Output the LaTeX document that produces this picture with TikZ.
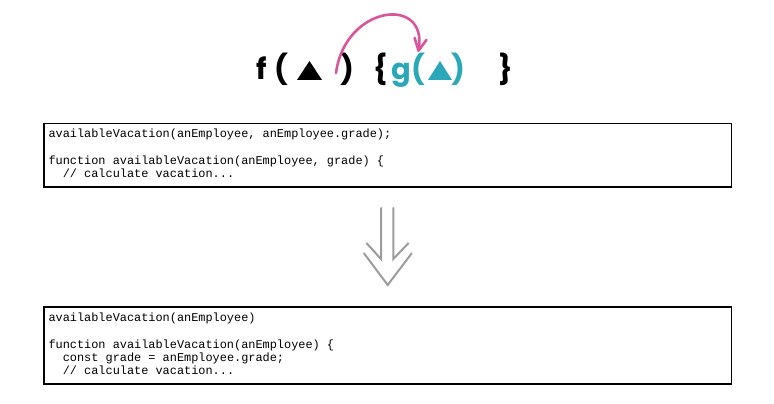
\documentclass[tikz,border=0pt]{standalone}
\usepackage{fontspec}
\setmonofont{Liberation Mono}
\newfontfamily\headfont{Poppins}
\usetikzlibrary{arrows.meta}
\definecolor{fnteal}{HTML}{2BA8B8}
\definecolor{fnpink}{HTML}{D9559C}
\definecolor{arrowgray}{HTML}{9C9C9C}
\begin{document}
\begin{tikzpicture}[x=1pt,y=-1pt,
  glyph/.style={anchor=base, inner sep=0pt, font=\headfont\bfseries\fontsize{29}{30}\selectfont},
  codebox/.style={draw=black, line width=1.4pt, minimum width=687.7pt, inner sep=0pt},
  codeline/.style={anchor=base west, inner sep=0pt, font=\ttfamily\fontsize{11.9}{13.3}\selectfont},
  pinkarc/.style={draw=fnpink, line width=2.6pt, line cap=round,
    -{Straight Barb[length=12pt, width=12pt, line width=2.6pt, round]}},
  grayline/.style={draw=arrowgray, line width=2pt, line cap=round, line join=miter}]
\useasboundingbox (0,0) rectangle (774,404);

% heading: f ( triangle ) { g ( triangle ) }
\node[glyph] (f)  at (262,80) {f};
\node[glyph] (fo) at (281,80) {(};
\fill[black] (297,80) -- (322,80) -- (309.5,61) -- cycle;
\node[glyph] (fc) at (347.5,80) {)};
\node[glyph] (bo) at (381,80) {\{};
\node[glyph, text=fnteal] (g)  at (401,80) {g};
\node[glyph, text=fnteal] (go) at (418,80) {(};
\fill[fnteal] (428,80) -- (452,80) -- (440,61) -- cycle;
\node[glyph, text=fnteal] (gc) at (458,80) {)};
\node[glyph] (bc) at (506,80) {\}};

% the argument moves into the body
\coordinate (arcstart) at (336,73);
\coordinate (arcend) at (418.3,52);
\draw[pinkarc] (arcstart) .. controls (345,5) and (428,-5) .. (arcend);

% before
\node[codebox, minimum height=63.5pt] (before) at (387.85,155.25) {};
\node[codeline] (b1) at (48.3,137.7) {availableVacation(anEmployee, anEmployee.grade);};
\node[codeline] (b2) at (48.3,164.3) {function availableVacation(anEmployee, grade) \{};
\node[codeline] (b3) at (48.3,177.6) {\phantom{xx}// calculate vacation...};

% double arrow
\draw[grayline] (381,208) -- (381,259) -- (366.7,243.3);
\draw[grayline] (393.3,208) -- (393.3,259) -- (408.3,243.3);
\draw[grayline] (364,253.3) -- (387.7,285) -- (411.7,253.3);

% after
\node[codebox, minimum height=77pt] (after) at (387.85,345.5) {};
\node[codeline] (a1) at (48.3,321.7) {availableVacation(anEmployee)};
\node[codeline] (a2) at (48.3,348.3) {function availableVacation(anEmployee) \{};
\node[codeline] (a3) at (48.3,361.6) {\phantom{xx}const grade = anEmployee.grade;};
\node[codeline] (a4) at (48.3,374.9) {\phantom{xx}// calculate vacation...};
\end{tikzpicture}
\end{document}
